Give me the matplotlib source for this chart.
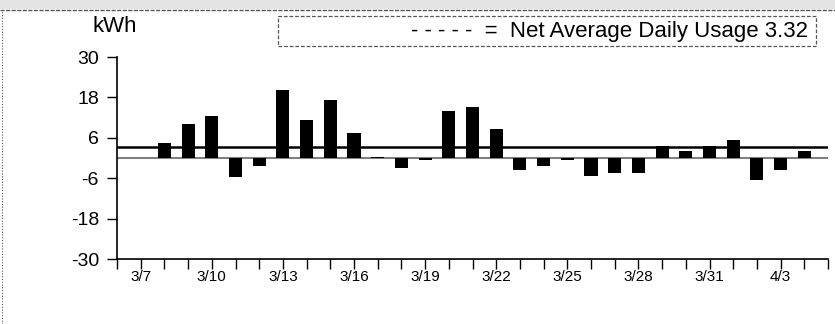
import matplotlib
matplotlib.use("Agg")
import matplotlib.pyplot as plt
from matplotlib.patches import Rectangle
from matplotlib.lines import Line2D

plt.rcParams['font.family'] = ['Liberation Sans', 'DejaVu Sans']

# daily net usage (kWh), 3/7 .. 4/4
dates = ['3/7', '3/8', '3/9', '3/10', '3/11', '3/12', '3/13', '3/14', '3/15',
         '3/16', '3/17', '3/18', '3/19', '3/20', '3/21', '3/22', '3/23', '3/24',
         '3/25', '3/26', '3/27', '3/28', '3/29', '3/30', '3/31', '4/1', '4/2',
         '4/3', '4/4']
usage = [0.0, 4.5, 10.0, 12.4, -5.6, -2.5, 20.3, 11.4, 17.1,
         7.4, 0.3, -3.0, -0.7, 14.0, 15.1, 8.7, -3.7, -2.4,
         -0.7, -5.2, -4.5, -4.5, 3.5, 2.1, 3.5, 5.4, -6.4,
         -3.7, 2.0]
net_avg = 3.32
yticks = [-30, -18, -6, 6, 18, 30]

W, H = 835, 324
fig = plt.figure(figsize=(W / 100, H / 100), dpi=100)

# page decorations: stippled strip on top, dotted left edge
fig.patches.append(Rectangle((0, 1 - 9 / H), 1, 9 / H, transform=fig.transFigure,
                             facecolor='#e4e4e4', edgecolor='none'))
fig.add_artist(Line2D([0, 1], [1 - 10 / H, 1 - 10 / H], transform=fig.transFigure,
                      color='#555555', lw=1.0, ls=(0, (3, 1))))
fig.add_artist(Line2D([1.5 / W, 1.5 / W], [0, 1 - 10 / H], transform=fig.transFigure,
                      color='#555555', lw=0.8, ls=(0, (1, 1.5))))

ax = fig.add_axes([117 / W, 65 / H, 711 / W, 202 / H])
x = list(range(len(dates)))
ax.bar(x, usage, width=0.55, color='black', zorder=3)
ax.axhline(0, color='#808080', lw=1.5, zorder=2)
ax.axhline(net_avg, color='black', lw=1.8, zorder=4)

ax.set_xlim(-1, 29)
ax.set_ylim(-30, 30)
ax.set_yticks(yticks)
ax.set_yticklabels([str(v) for v in yticks], fontsize=14)
ax.set_xticks(list(range(-1, 30)))
ax.set_xticklabels(['' if (i < 0 or i % 3) else dates[i] for i in range(-1, 30)],
                   fontsize=11)
ax.tick_params(axis='x', direction='out', length=7, width=1, pad=1)
ax.tick_params(axis='y', direction='out', length=7, width=1, pad=6)
for s in ['top', 'right']:
    ax.spines[s].set_visible(False)
for s in ['left', 'bottom']:
    ax.spines[s].set_linewidth(1.2)

fig.text(93 / W, 1 - 27 / H, 'kWh', fontsize=16, va='center', ha='left')

# legend box
fig.patches.append(Rectangle((278 / W, 1 - 46 / H), 538 / W, 30 / H,
                             transform=fig.transFigure, facecolor='none',
                             edgecolor='#555555', lw=0.9, ls=(0, (3, 1.5))))
fig.text(808 / W, 1 - 31 / H, '- - - - -  =  Net Average Daily Usage 3.32',
         fontsize=16, va='center', ha='right')

fig.savefig('out.png', dpi=100)
